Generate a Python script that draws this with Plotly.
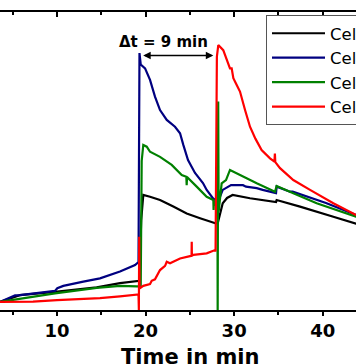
import plotly.graph_objects as go

# ---- data (time in min, signal in arbitrary units 0-100) ----
black_t = [3.56, 5.8, 9.77, 14.48, 17.11, 19.0, 19.3, 19.5, 19.74, 20.5, 21.63, 23.13, 24.64, 26.15, 27.65, 27.87,
           28.14, 28.4, 28.71, 29.2, 29.53, 29.83, 31.79, 34.61, 34.73, 34.8, 37.44, 41.2, 43.76, 44.5]
black_v = [2.7, 5.0, 6.1, 7.6, 9.0, 9.7, 9.8, 30.0, 38.6, 38.0, 36.9, 34.7, 32.4, 30.8, 29.1, 29.1,
           29.0, 32.6, 35.8, 37.6, 38.2, 38.6, 37.5, 36.3, 36.2, 36.9, 34.7, 31.3, 29.0, 28.8]

blue_t = [3.56, 5.26, 5.82, 7.29, 9.77, 10.03, 10.71, 12.97, 14.85, 17.11, 18.81, 19.2, 19.31, 19.45, 19.94,
          20.5, 21.06, 21.63, 22.39, 23.32, 23.89, 24.26, 24.45, 24.79, 25.58, 26.48, 26.9, 27.6, 27.87,
          28.1, 28.4, 28.71, 29.65, 31.0, 31.34, 32.55, 33.22, 34.39, 34.73, 34.8, 36.31, 36.61, 40.37, 43.76, 44.5]
blue_v = [2.7, 4.9, 5.0, 5.6, 6.4, 7.3, 8.1, 9.5, 10.6, 12.9, 15.1, 16.1, 86.2, 82.4, 81.1,
          77.2, 71.6, 67.1, 63.8, 61.5, 59.3, 55.4, 53.7, 50.3, 46.0, 42.6, 40.3, 37.5, 36.9,
          35.5, 38.0, 40.3, 41.9, 41.9, 41.4, 40.9, 40.3, 39.4, 39.2, 41.4, 39.7, 39.7, 35.9, 31.9, 31.6]

green_t = [3.56, 7.29, 9.77, 14.48, 16.0, 17.11, 19.0, 19.45, 19.56, 19.74, 20.13, 20.5, 21.63, 22.95, 24.08,
           24.6, 24.64, 24.68, 25.77, 26.15, 26.9, 27.65, 27.68, 27.72, 28.0, 28.12, 28.14, 28.2, 28.25,
           28.59, 29.08, 29.53, 29.91, 31.03, 32.55, 34.61, 34.8, 36.68, 39.32, 43.76, 44.5]
green_v = [2.7, 4.5, 5.6, 7.4, 7.9, 8.1, 7.9, 7.9, 50.0, 55.4, 54.8, 53.1, 51.4, 48.7, 45.3,
           44.7, 41.9, 44.6, 41.4, 40.3, 38.0, 36.9, 33.6, 36.5, 34.7, 30.0, 0.0, 70.0, 33.0,
           42.5, 43.6, 47.0, 46.4, 44.7, 42.5, 39.7, 41.6, 39.2, 35.8, 31.3, 31.0]

red_t = [3.56, 5.5, 7.29, 10.0, 14.85, 17.11, 19.1, 19.2, 19.24, 19.28, 19.32, 19.37, 19.74, 20.5, 20.69,
         21.06, 21.63, 22.2, 22.39, 22.76, 23.89, 25.02, 25.19, 25.21, 25.23, 25.4, 26.9, 27.84, 27.9,
         28.05, 28.17, 28.21, 28.77, 29.27, 29.53, 29.72, 29.91, 30.29, 30.66, 31.23, 31.79, 32.4, 33.1,
         34.05, 34.55, 34.6, 34.65, 35.18, 36.68, 38.57, 41.2, 43.76, 44.5]
red_v = [2.7, 2.8, 2.8, 3.3, 4.0, 4.6, 5.0, 5.2, 0.0, 24.6, 7.3, 7.3, 8.1, 8.7, 9.8,
         10.3, 13.4, 14.8, 16.2, 15.7, 17.3, 18.1, 18.2, 22.9, 18.3, 18.5, 19.0, 20.1, 19.6,
         85.0, 88.9, 88.9, 87.2, 82.8, 81.1, 81.1, 77.8, 75.5, 73.3, 67.1, 61.5, 57.5, 53.7,
         50.9, 49.8, 52.5, 49.6, 47.6, 43.6, 40.3, 35.8, 31.9, 31.4]

series_names = ["Cell 1", "Cell 2", "Cell 3", "Cell 4"]
series_colors = ["#000000", "#000080", "#008000", "#FF0000"]

x_ticks = [10, 20, 30, 40]
annot_text = "Δt = 9 min"
x_title = "Time in min"

fig = go.Figure()
for name, color, t, v in zip(series_names, series_colors,
                             [black_t, blue_t, green_t, red_t],
                             [black_v, blue_v, green_v, red_v]):
    fig.add_trace(go.Scatter(x=t, y=v, mode="lines", name=name,
                             line=dict(color=color, width=2.2)))

# invisible trace for top mirror axis
fig.add_trace(go.Scatter(x=[None], y=[None], xaxis="x2", showlegend=False, hoverinfo="skip"))

xr = [3.56, 43.76]
fig.update_layout(
    width=356, height=364,
    margin=dict(l=0, r=0, t=12, b=54, autoexpand=False),
    paper_bgcolor="white", plot_bgcolor="white",
    xaxis=dict(range=xr, showline=True, linecolor="black", linewidth=1.5,
               ticks="outside", ticklen=4, tickwidth=1.5, tickcolor="black",
               tickvals=x_ticks, ticktext=[str(v) for v in x_ticks],
               minor=dict(dtick=5, ticks="outside", ticklen=3, tickwidth=1.5, tickcolor="black"),
               tickfont=dict(family="DejaVu Sans", size=18, color="black", weight="bold"),
               showgrid=False, zeroline=False),
    xaxis2=dict(range=xr, overlaying="x", side="top", anchor="y", showline=True, linecolor="black", linewidth=1.5,
                ticks="inside", ticklen=5, tickwidth=1.5, tickcolor="black",
                tickvals=x_ticks, showticklabels=False,
                minor=dict(dtick=5, ticks="inside", ticklen=3, tickwidth=1.5, tickcolor="black"),
                showgrid=False, zeroline=False),
    yaxis=dict(range=[0, 100], visible=False, showgrid=False, zeroline=False),
    showlegend=True,
    legend=dict(x=266/356, y=(310-15)/298, xanchor="left", yanchor="top",
                bordercolor="#555555", borderwidth=1, bgcolor="white",
                font=dict(family="DejaVu Sans", size=16.5, color="black"),
                tracegroupgap=0, itemwidth=53),
)

fig.add_annotation(x=21.97, y=89.8, xref="x", yref="y", text=annot_text, showarrow=False,
                   font=dict(family="DejaVu Sans", size=15, color="black", weight="bold"))
fig.add_annotation(x=27.65, y=85.4, ax=19.56, ay=85.4, xref="x", yref="y", axref="x", ayref="y",
                   text="", showarrow=True, arrowside="end+start", arrowhead=2, arrowsize=1,
                   arrowwidth=1.5, arrowcolor="black")
fig.add_annotation(x=190/356, y=(310-343)/298, xref="paper", yref="paper", text=x_title,
                   showarrow=False, xanchor="center", yanchor="top",
                   font=dict(family="DejaVu Sans", size=21, color="black", weight="bold"))

fig.write_html("out.html", config={"displayModeBar": False},
               post_script="document.body.style.margin='0';document.body.style.overflow='hidden';")
